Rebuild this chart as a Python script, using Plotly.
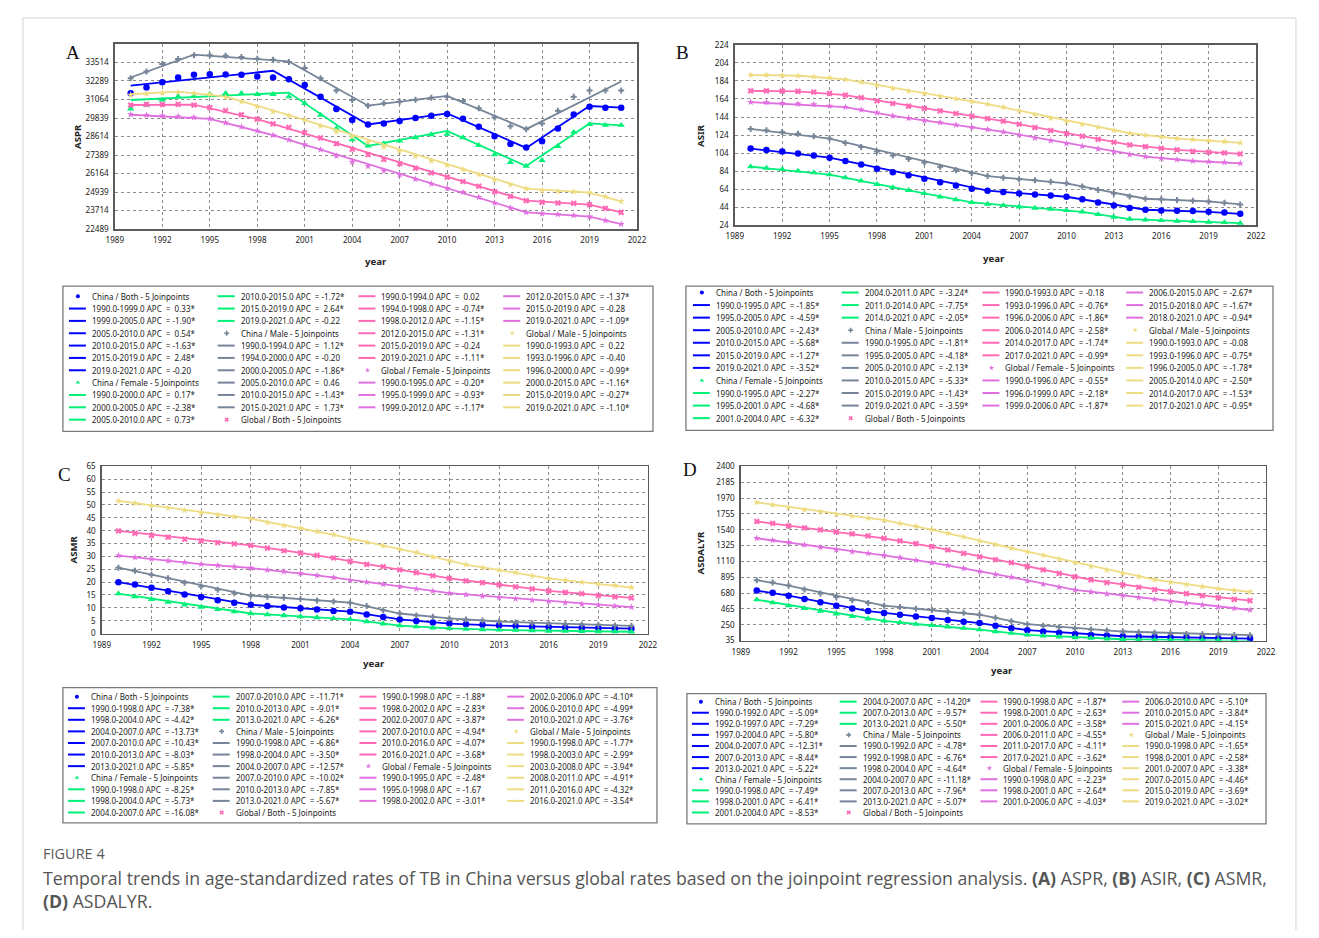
import plotly.graph_objects as go

W, H = 1319, 938          # reference picture size
OFF = 8                   # default body margin of the page
FW, FH = W - 2 * OFF, H - 2 * OFF
# measured photo mapping of this page: photo = SC * page + (OX, OY); inverted below
SC, OX, OY = 0.987, 8.1, 6.2
YEARS = list(range(1990, 2022))
X_TICKS = [1989, 1992, 1995, 1998, 2001, 2004, 2007, 2010, 2013, 2016, 2019, 2022]

# ---------------- series (legend order) ----------------
S_KEYS = ["cb", "cf", "cm", "gb", "gf", "gm"]
S_NAMES = ["China / Both - 5 Joinpoints", "China / Female - 5 Joinpoints",
           "China / Male - 5 Joinpoints", "Global / Both - 5 Joinpoints",
           "Global / Female - 5 Joinpoints", "Global / Male - 5 Joinpoints"]
S_COLORS = ["#0000FF", "#00F078", "#768598", "#FF69B4", "#E070E0", "#EEDC82"]
S_SYMBOLS = ["circle", "triangle-up", "cross", "x", "star", "star"]
S_SIZES = [6.5, 6.5, 5, 5.5, 5.5, 5.5]

# ---------------- Panel A : ASPR ----------------
A_cb = [31476, 31853, 32208, 32519, 32696, 32741, 32718, 32696, 32585, 32519, 32408, 32031, 31254, 30433, 29701, 29412,
        29479, 29634, 29834, 29989, 30100, 29790, 29257, 28636, 28125, 27881, 28303, 29146, 30078, 30588, 30522, 30522]
A_cf = [30450, 30699, 31032, 31254, 31321, 31432, 31476, 31476, 31410, 31410, 31254, 30810, 30034, 29146, 28414, 27992,
        28147, 28325, 28547, 28747, 28769, 28547, 28037, 27415, 26905, 26661, 27038, 27970, 28902, 29412, 29368, 29368]
A_cm = [32475, 32918, 33406, 33739, 33983, 33983, 33961, 33872, 33762, 33695, 33540, 33140, 32475, 31653, 31032, 30655,
        30810, 30921, 31054, 31187, 31254, 30966, 30477, 29878, 29301, 29102, 29479, 30322, 31254, 31653, 31653, 31653]
A_gb = [30699, 30743, 30743, 30743, 30699, 30522, 30322, 30056, 29767, 29457, 29213, 28880, 28525, 28147, 27770, 27415,
        27105, 26816, 26528, 26217, 25928, 25640, 25329, 24974, 24664, 24375, 24264, 24220, 24198, 24109, 23865, 23599]
A_gf = [30078, 30034, 29989, 29945, 29878, 29789, 29523, 29257, 28991, 28702, 28392, 28081, 27748, 27326, 26927, 26639,
        26350, 26084, 25795, 25485, 25196, 24930, 24597, 24220, 23887, 23599, 23510, 23465, 23399, 23310, 23066, 22822]
A_gm = [31365, 31432, 31498, 31543, 31476, 31410, 31210, 30921, 30588, 30256, 29989, 29701, 29301, 28924, 28591, 28236,
        27926, 27637, 27304, 26994, 26705, 26439, 26106, 25751, 25440, 25174, 25041, 25000, 24974, 24908, 24641, 24331]
A_cb_jp = [1990, 1999, 2005, 2010, 2015, 2019, 2021]
A_cf_jp = [1990, 2000, 2005, 2010, 2015, 2019, 2021]
A_cm_jp = [1990, 1994, 2000, 2005, 2010, 2015, 2021]
A_gb_jp = [1990, 1994, 1998, 2012, 2015, 2019, 2021]
A_gf_jp = [1990, 1995, 1999, 2012, 2015, 2019, 2021]
A_gm_jp = [1990, 1993, 1996, 2000, 2015, 2019, 2021]
A_cb_fit = [31986, 32963, 29412, 30145, 27859, 30633, 30522]
A_cf_fit = [31032, 31520, 27992, 28991, 26661, 29479, 29346]
A_cm_fit = [32519, 34028, 33584, 30655, 31298, 29102, 32253]
A_gb_fit = [30699, 30720, 29767, 25329, 24375, 24109, 23599]
A_gf_fit = [30056, 29789, 28702, 24597, 23599, 23310, 22822]
A_gm_fit = [31410, 31587, 31254, 30034, 25174, 24908, 24331]
A_cb_apc = ["0.33*", "-1.90*", "0.54*", "-1.63*", "2.48*", "-0.20"]
A_cf_apc = ["0.17*", "-2.38*", "0.73*", "-1.72*", "2.64*", "-0.22"]
A_cm_apc = ["1.12*", "-0.20", "-1.86*", "0.46", "-1.43*", "1.73*"]
A_gb_apc = ["0.02", "-0.74*", "-1.15*", "-1.31*", "-0.24", "-1.11*"]
A_gf_apc = ["-0.20*", "-0.93*", "-1.17*", "-1.37*", "-0.28", "-1.09*"]
A_gm_apc = ["0.22", "-0.40", "-0.99*", "-1.16*", "-0.27*", "-1.10*"]
A_yticks = [22489, 23714, 24939, 26164, 27389, 28614, 29839, 31064, 32289, 33514]

# ---------------- Panel B : ASIR ----------------
B_cb = [109.0, 107.5, 105.6, 103.4, 101.2, 98.9, 95.2, 91.2, 86.7, 82.6, 79.3, 75.6, 71.5, 68.1, 64.4, 62.2,
        60.7, 59.2, 58.1, 57.0, 55.5, 52.6, 49.2, 45.9, 42.9, 41.1, 40.3, 40.0, 39.6, 38.8, 38.1, 36.6]
B_cf = [88.9, 87.4, 86.0, 84.1, 82.2, 80.0, 76.7, 73.0, 69.3, 65.9, 62.6, 59.2, 55.5, 52.2, 49.2, 47.4,
        45.9, 44.4, 42.9, 41.8, 40.3, 38.8, 35.9, 32.9, 30.7, 29.9, 29.2, 28.5, 28.1, 27.3, 27.0, 26.2]
B_cm = [130.8, 129.4, 127.5, 125.3, 122.7, 120.1, 115.3, 110.8, 105.6, 101.2, 97.5, 93.4, 88.9, 84.8, 81.5, 78.5,
        76.7, 74.8, 73.7, 72.2, 70.4, 67.0, 63.0, 59.2, 55.9, 53.3, 52.6, 51.8, 51.1, 50.3, 48.9, 47.0]
B_gb = [173.1, 173.1, 172.8, 172.4, 171.7, 170.2, 168.3, 165.4, 162.0, 159.0, 156.1, 153.5, 150.9, 147.9, 144.9, 142.3,
        139.4, 136.0, 132.3, 129.0, 125.7, 122.7, 119.3, 116.0, 113.0, 111.2, 109.3, 107.5, 106.0, 104.9, 104.1, 103.0]
B_gf = [160.5, 160.2, 159.4, 158.7, 157.9, 156.4, 155.0, 152.0, 148.7, 145.3, 142.7, 140.1, 137.9, 135.3, 132.7, 130.1,
        127.5, 124.2, 120.8, 117.9, 114.5, 111.6, 108.6, 105.2, 102.3, 100.1, 98.2, 96.7, 95.2, 94.5, 93.7, 92.6]
B_gm = [190.6, 190.6, 190.2, 189.8, 188.7, 187.6, 185.8, 182.8, 179.1, 175.7, 172.8, 170.2, 167.2, 164.2, 161.3, 158.3,
        155.0, 150.9, 146.8, 142.7, 139.0, 135.7, 132.7, 129.4, 126.0, 123.8, 121.9, 120.1, 119.0, 117.9, 116.8, 115.3]
B_cb_jp = [1990, 1995, 2005, 2010, 2015, 2019, 2021]
B_cf_jp = [1990, 1995, 2001, 2004, 2011, 2014, 2021]
B_cm_jp = [1990, 1995, 2005, 2010, 2015, 2019, 2021]
B_gb_jp = [1990, 1993, 1996, 2006, 2014, 2017, 2021]
B_gf_jp = [1990, 1996, 1999, 2006, 2015, 2018, 2021]
B_gm_jp = [1990, 1993, 1996, 2005, 2014, 2017, 2021]
B_cb_fit = [109.0, 98.9, 62.2, 55.5, 41.1, 38.8, 36.6]
B_cf_fit = [88.9, 80.0, 59.2, 49.2, 38.8, 30.7, 26.2]
B_cm_fit = [130.8, 120.1, 78.5, 70.4, 53.3, 50.3, 47.0]
B_gb_fit = [173.1, 172.4, 168.3, 139.4, 113.0, 107.5, 103.0]
B_gf_fit = [160.5, 155.0, 145.3, 127.5, 100.1, 95.2, 92.6]
B_gm_fit = [190.6, 189.8, 185.8, 158.3, 126.0, 120.1, 115.3]
B_cb_apc = ["-1.85*", "-4.59*", "-2.43*", "-5.68*", "-1.27*", "-3.52*"]
B_cf_apc = ["-2.27*", "-4.68*", "-6.32*", "-3.24*", "-7.75*", "-2.05*"]
B_cm_apc = ["-1.81*", "-4.18*", "-2.13*", "-5.33*", "-1.43*", "-3.59*"]
B_gb_apc = ["-0.18", "-0.76*", "-1.86*", "-2.58*", "-1.74*", "-0.99*"]
B_gf_apc = ["-0.55*", "-2.18*", "-1.87*", "-2.67*", "-1.67*", "-0.94*"]
B_gm_apc = ["-0.08", "-0.75*", "-1.78*", "-2.50*", "-1.53*", "-0.95*"]
B_yticks = [24, 44, 64, 84, 104, 124, 144, 164, 184, 204, 224]

# ---------------- Panel C : ASMR ----------------
C_cb = [20.0, 19.1, 17.8, 16.5, 15.2, 14.2, 13.0, 12.0, 11.2, 10.7, 10.1, 9.8, 9.4, 8.8, 8.5, 7.4,
        6.4, 5.5, 4.9, 4.3, 3.9, 3.6, 3.4, 3.1, 2.9, 2.6, 2.5, 2.3, 2.2, 2.1, 2.0, 1.9]
C_cf = [15.5, 14.4, 13.3, 12.2, 11.2, 10.3, 9.4, 8.5, 7.8, 7.4, 7.0, 6.6, 6.2, 5.9, 5.5, 4.6,
        3.8, 3.1, 2.7, 2.2, 2.0, 1.7, 1.5, 1.4, 1.3, 1.1, 1.0, 0.95, 0.85, 0.8, 0.75, 0.7]
C_cm = [25.6, 24.4, 22.9, 21.5, 19.8, 18.3, 17.0, 15.7, 14.8, 14.3, 13.9, 13.4, 12.9, 12.5, 12.0, 10.7,
        9.1, 7.8, 7.0, 6.5, 5.9, 5.5, 5.1, 4.7, 4.3, 4.0, 3.8, 3.6, 3.5, 3.4, 3.1, 3.0]
C_gb = [39.9, 39.0, 38.2, 37.5, 36.7, 36.0, 35.4, 34.9, 34.3, 33.2, 32.2, 31.3, 30.4, 29.4, 28.1, 26.9,
        26.0, 24.8, 23.7, 22.5, 21.5, 20.5, 19.8, 19.0, 18.2, 17.4, 16.6, 16.0, 15.5, 14.8, 14.3, 13.9]
C_gf = [30.3, 29.6, 29.0, 28.3, 27.7, 27.0, 26.5, 26.0, 25.5, 24.7, 24.1, 23.4, 22.6, 21.8, 20.8, 20.0,
        19.2, 18.3, 17.4, 16.5, 15.7, 15.1, 14.6, 14.0, 13.5, 13.0, 12.5, 12.0, 11.4, 11.1, 10.7, 10.3]
C_gm = [51.6, 50.7, 49.7, 48.8, 47.9, 46.9, 46.2, 45.4, 44.7, 43.2, 42.1, 41.0, 39.7, 38.4, 36.7, 35.5,
        34.1, 32.8, 31.5, 29.8, 28.3, 26.8, 25.6, 24.7, 23.7, 22.4, 21.5, 20.8, 20.0, 19.4, 18.7, 17.9]
C_cb_jp = [1990, 1998, 2004, 2007, 2010, 2013, 2021]
C_cf_jp = [1990, 1998, 2004, 2007, 2010, 2013, 2021]
C_cm_jp = [1990, 1998, 2004, 2007, 2010, 2013, 2021]
C_gb_jp = [1990, 1998, 2002, 2007, 2010, 2016, 2021]
C_gf_jp = [1990, 1995, 1998, 2002, 2006, 2010, 2021]
C_gm_jp = [1990, 1998, 2003, 2008, 2011, 2016, 2021]
C_cb_fit = [20.0, 11.2, 8.5, 5.5, 3.9, 3.1, 1.9]
C_cf_fit = [15.5, 7.8, 5.5, 3.1, 2.0, 1.4, 0.7]
C_cm_fit = [25.6, 14.8, 12.0, 7.8, 5.9, 4.7, 3.0]
C_gb_fit = [39.9, 34.3, 30.4, 24.8, 21.5, 16.6, 13.9]
C_gf_fit = [30.3, 27.0, 25.5, 22.6, 19.2, 15.7, 10.3]
C_gm_fit = [51.6, 44.7, 38.4, 31.5, 26.8, 21.5, 17.9]
C_cb_apc = ["-7.38*", "-4.42*", "-13.73*", "-10.43*", "-8.03*", "-5.85*"]
C_cf_apc = ["-8.25*", "-5.73*", "-16.08*", "-11.71*", "-9.01*", "-6.26*"]
C_cm_apc = ["-6.86*", "-3.50*", "-12.57*", "-10.02*", "-7.85*", "-5.67*"]
C_gb_apc = ["-1.88*", "-2.83*", "-3.87*", "-4.94*", "-4.07*", "-3.68*"]
C_gf_apc = ["-2.48*", "-1.67", "-3.01*", "-4.10*", "-4.99*", "-3.76*"]
C_gm_apc = ["-1.77*", "-2.99*", "-3.94*", "-4.91*", "-4.32*", "-3.54*"]
C_yticks = [0, 5, 10, 15, 20, 25, 30, 35, 40, 45, 50, 55, 60, 65]

# ---------------- Panel D : ASDALYR ----------------
D_cb = [714, 686, 645, 600, 554, 509, 472, 436, 408, 386, 363, 340, 313, 290, 272, 235,
        204, 176, 158, 140, 126, 112, 103, 94, 90, 85, 81, 76, 71, 67, 67, 62]
D_cf = [591, 550, 509, 472, 436, 399, 363, 331, 304, 281, 258, 240, 222, 204, 185, 158,
        135, 112, 99, 85, 76, 67, 58, 53, 49, 44, 44, 40, 40, 35, 35, 31]
D_cm = [855, 823, 782, 727, 673, 627, 582, 545, 509, 490, 468, 450, 431, 413, 386, 345,
        299, 258, 235, 217, 199, 185, 172, 158, 149, 140, 135, 126, 122, 117, 112, 108]
D_gb = [1652, 1625, 1593, 1565, 1538, 1511, 1483, 1456, 1424, 1388, 1351, 1310, 1265, 1219, 1174, 1133,
        1092, 1042, 996, 946, 900, 859, 823, 791, 759, 727, 700, 673, 645, 618, 595, 577]
D_gf = [1424, 1397, 1370, 1333, 1301, 1269, 1242, 1219, 1192, 1160, 1128, 1092, 1055, 1014, 973, 932,
        896, 846, 800, 759, 723, 695, 668, 645, 618, 595, 568, 541, 518, 490, 472, 450]
D_gm = [1912, 1875, 1843, 1811, 1784, 1752, 1725, 1698, 1670, 1625, 1588, 1543, 1493, 1443, 1388, 1338,
        1288, 1242, 1192, 1142, 1092, 1042, 992, 946, 905, 864, 828, 796, 768, 741, 718, 695]
D_cb_jp = [1990, 1992, 1997, 2004, 2007, 2013, 2021]
D_cf_jp = [1990, 1998, 2001, 2004, 2007, 2013, 2021]
D_cm_jp = [1990, 1992, 1998, 2004, 2007, 2013, 2021]
D_gb_jp = [1990, 1998, 2001, 2006, 2011, 2017, 2021]
D_gf_jp = [1990, 1998, 2001, 2006, 2010, 2015, 2021]
D_gm_jp = [1990, 1998, 2001, 2007, 2015, 2019, 2021]
D_cb_fit = [714, 645, 436, 272, 176, 94, 62]
D_cf_fit = [591, 304, 240, 185, 112, 53, 31]
D_cm_fit = [855, 782, 509, 386, 258, 158, 108]
D_gb_fit = [1652, 1424, 1310, 1092, 859, 673, 577]
D_gf_fit = [1424, 1192, 1092, 896, 723, 595, 450]
D_gm_fit = [1912, 1670, 1543, 1242, 864, 741, 695]
D_cb_apc = ["-5.09*", "-7.29*", "-5.80*", "-12.31*", "-8.44*", "-5.22*"]
D_cf_apc = ["-7.49*", "-6.41*", "-8.53*", "-14.20*", "-9.57*", "-5.50*"]
D_cm_apc = ["-4.78*", "-6.76*", "-4.64*", "-11.18*", "-7.96*", "-5.07*"]
D_gb_apc = ["-1.87*", "-2.63*", "-3.58*", "-4.55*", "-4.11*", "-3.62*"]
D_gf_apc = ["-2.23*", "-2.64*", "-4.03*", "-5.10*", "-3.84*", "-4.15*"]
D_gm_apc = ["-1.65*", "-2.58*", "-3.38*", "-4.46*", "-3.69*", "-3.02*"]
D_yticks = [35, 250, 465, 680, 895, 1110, 1325, 1540, 1755, 1970, 2185, 2400]

CAPTION_TITLE = "FIGURE 4"
CAPTION_L1 = ("Temporal trends in age-standardized rates of TB in China versus global rates based on the "
              "joinpoint regression analysis. <b>(A)</b> ASPR, <b>(B)</b> ASIR, <b>(C)</b> ASMR,")
CAPTION_L2 = "<b>(D)</b> ASDALYR."

# ---------------- assemble ----------------
G = globals()
PANELS = ["A", "B", "C", "D"]
YTITLES = {"A": "ASPR", "B": "ASIR", "C": "ASMR", "D": "ASDALYR"}
YRANGES = {"A": [22489, 34739], "B": [24, 224], "C": [0, 65], "D": [35, 2400]}

# layout geometry in (reference) pixels
GEOM = {
    "A": dict(x0=114, x1=637, y0=44, y1=229, yt=(76, 136), xt=(376, 261), let=(72, 53)),
    "B": dict(x0=735, x1=1257, y0=45, y1=225, yt=(700, 135), xt=(995, 258), let=(683, 53)),
    "C": dict(x0=101, x1=648, y0=466, y1=633, yt=(73, 549), xt=(374, 663), let=(64, 474)),
    "D": dict(x0=741, x1=1267, y0=466, y1=640, yt=(701, 552), xt=(1003, 670), let=(690, 469)),
}
LEG = {
    "A": dict(box=(62, 286, 653, 431), y0=296, dy=12.33, tx=[89, 238, 379, 524]),
    "B": dict(box=(686, 286, 1274, 430), y0=292.3, dy=12.55, tx=[714, 863, 1004, 1148]),
    "C": dict(box=(62, 687, 657, 822), y0=696, dy=11.57, tx=[88, 233, 380, 528]),
    "D": dict(box=(687, 693, 1267, 823), y0=701, dy=11.07, tx=[713, 861, 1002, 1144]),
}
COL_COUNTS = [11, 11, 10, 10]
FONT = "Noto Sans"
NB = "\u00a0"


def dxp(p):
    return (p - OX) / SC


def dyp(p):
    return (p - OY) / SC


def fx(p):
    return (dxp(p) - OFF) / FW


def fy(p):
    return 1 - (dyp(p) - OFF) / FH


fig = go.Figure()
layout = {}
annotations = []
shapes = []

axis_common = dict(showline=True, mirror=True, linecolor="#5a5a5a", linewidth=1.5,
                   showgrid=True, gridcolor="#8c8c8c", griddash="dot", gridwidth=1,
                   zeroline=False, ticks="outside", ticklen=3, tickcolor="rgba(0,0,0,0)",
                   tickformat="d",
                   tickfont=dict(family=FONT, size=8.1, color="#222"), fixedrange=True)


def note(x, y, text, size, family=FONT, color="#222", xanchor="center", angle=0):
    return dict(x=fx(x), y=fy(y), xref="paper", yref="paper", text=text, showarrow=False,
                xanchor=xanchor, yanchor="middle", textangle=angle,
                font=dict(family=family, size=size, color=color))


for i, p in enumerate(PANELS, start=1):
    g = GEOM[p]
    sx = "" if i == 1 else str(i)
    layout["xaxis" + sx] = dict(axis_common, domain=[fx(g["x0"]), fx(g["x1"])], range=[1989, 2022],
                                anchor="y" + sx, tickmode="array", tickvals=X_TICKS)
    layout["yaxis" + sx] = dict(axis_common, domain=[fy(g["y1"]), fy(g["y0"])], range=YRANGES[p],
                                anchor="x" + sx, tickmode="array", tickvals=G[p + "_yticks"])
    xref, yref = "x" + sx, "y" + sx
    for k, key in enumerate(S_KEYS):
        obs = G[f"{p}_{key}"]
        jp = G[f"{p}_{key}_jp"]
        fit = G[f"{p}_{key}_fit"]
        fig.add_trace(go.Scatter(x=jp, y=fit, mode="lines", xaxis=xref, yaxis=yref,
                                 line=dict(color=S_COLORS[k], width=1.8), showlegend=False,
                                 hoverinfo="skip"))
        fig.add_trace(go.Scatter(x=YEARS, y=obs, mode="markers", xaxis=xref, yaxis=yref,
                                 marker=dict(symbol=S_SYMBOLS[k], size=S_SIZES[k], color=S_COLORS[k],
                                             line=dict(width=0)),
                                 showlegend=False, cliponaxis=False, hoverinfo="skip"))
    annotations.append(note(g["yt"][0], g["yt"][1], f"<b>{YTITLES[p]}</b>", 9.6, angle=-90))
    annotations.append(note(g["xt"][0], g["xt"][1], "<b>year</b>", 9.6))
    annotations.append(note(g["let"][0], g["let"][1], p, 19, family="Liberation Serif", color="#111"))

    # ---- manual multi-column legend ----
    L = LEG[p]
    bx0, by0, bx1, by1 = L["box"]
    shapes.append(dict(type="rect", xref="paper", yref="paper", x0=fx(bx0), x1=fx(bx1),
                       y0=fy(by1), y1=fy(by0), line=dict(color="#7a7a7a", width=1.3),
                       fillcolor="rgba(0,0,0,0)"))
    entries = []
    for k, key in enumerate(S_KEYS):
        entries.append(("hdr", k, S_NAMES[k]))
        jp = G[f"{p}_{key}_jp"]
        apc = G[f"{p}_{key}_apc"]
        for j in range(6):
            eq = f"APC{NB}{NB}={NB}" + ("" if apc[j].startswith("-") else NB) + apc[j]
            entries.append(("seg", k, f"{jp[j]:.1f}-{jp[j + 1]:.1f}{NB}{eq}"))
    pos = 0
    for c, cnt in enumerate(COL_COUNTS):
        for r in range(cnt):
            kind, k, label = entries[pos]
            pos += 1
            ty = L["y0"] + r * L["dy"]
            tx = L["tx"][c]
            annotations.append(note(tx, ty, label, 8, xanchor="left"))
            if kind == "seg":
                shapes.append(dict(type="line", xref="paper", yref="paper", x0=fx(tx - 21), x1=fx(tx - 4),
                                   y0=fy(ty), y1=fy(ty), line=dict(color=S_COLORS[k], width=2)))
            else:
                fig.add_trace(go.Scatter(x=[dxp(tx - 12)], y=[dyp(ty)], mode="markers", xaxis="x5", yaxis="y5",
                                         marker=dict(symbol=S_SYMBOLS[k], size=4, color=S_COLORS[k],
                                                     line=dict(width=0)),
                                         showlegend=False, hoverinfo="skip", cliponaxis=False))

layout["xaxis5"] = dict(domain=[0, 1], range=[OFF, OFF + FW], visible=False, fixedrange=True, anchor="y5")
layout["yaxis5"] = dict(domain=[0, 1], range=[OFF + FH, OFF], visible=False, fixedrange=True, anchor="x5")

# outer frame of figure block
shapes.append(dict(type="rect", xref="paper", yref="paper", x0=fx(22), x1=fx(1297), y0=fy(H + 20), y1=fy(18),
                   line=dict(color="#d4d4d4", width=1), fillcolor="rgba(0,0,0,0)", layer="below"))

# caption
annotations.append(note(40, 853, CAPTION_TITLE, 14.5, family="Open Sans", color="#5a5a5a", xanchor="left"))
annotations.append(note(40, 877, CAPTION_L1, 17.7, family="Open Sans", color="#555", xanchor="left"))
annotations.append(note(40, 900, CAPTION_L2, 17.7, family="Open Sans", color="#555", xanchor="left"))

fig.update_layout(layout)
fig.update_layout(width=FW, height=FH, margin=dict(l=0, r=0, t=0, b=0), autosize=False,
                  paper_bgcolor="white", plot_bgcolor="rgba(0,0,0,0)", showlegend=False,
                  annotations=annotations, shapes=shapes, font=dict(family=FONT))

fig.write_html("out.html", config={"displayModeBar": False, "staticPlot": True})
